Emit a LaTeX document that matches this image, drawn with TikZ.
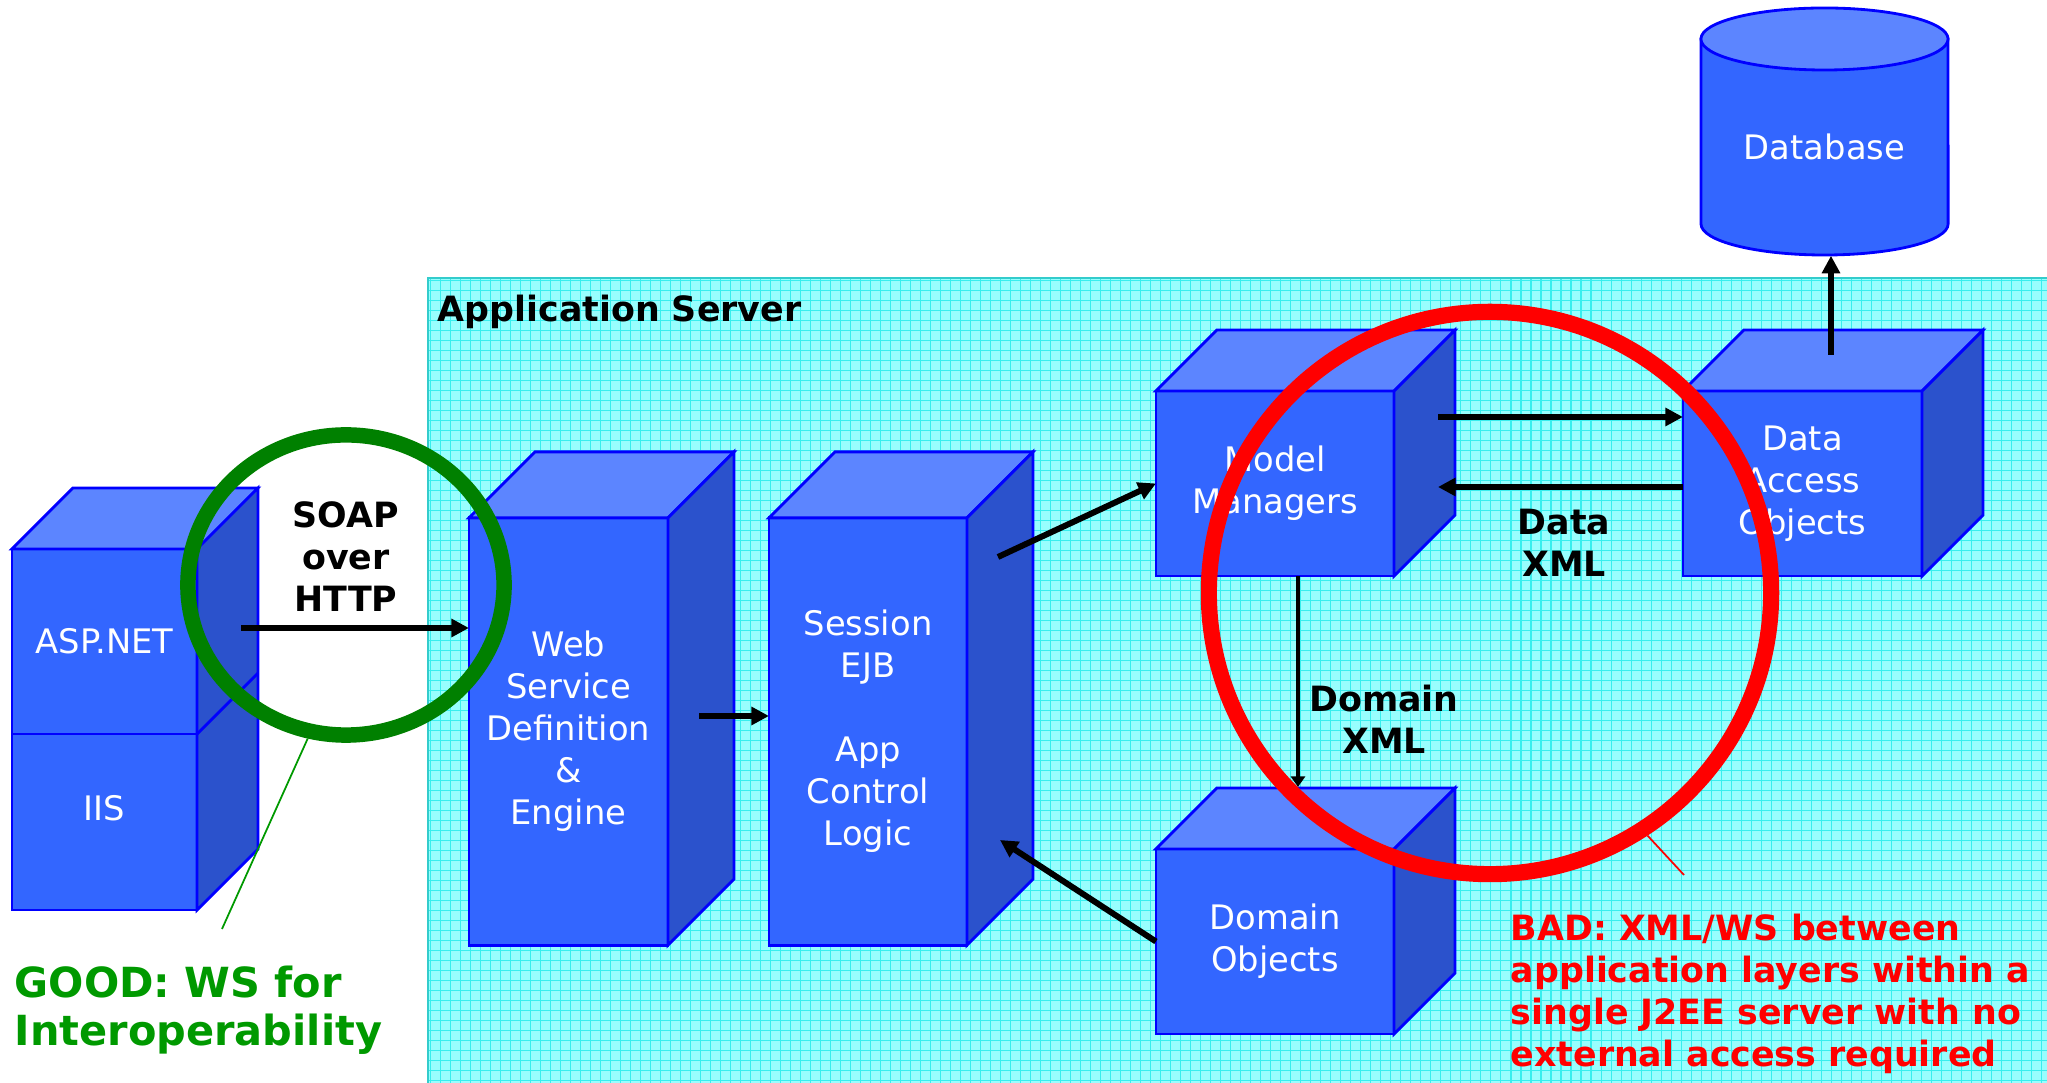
\documentclass[tikz,border=0pt]{standalone}
\usepackage{fontspec}
\setmainfont{DejaVu Sans}
\usetikzlibrary{arrows.meta,shapes.geometric}

\definecolor{panelfill}{RGB}{152,254,254}
\definecolor{panelgrid}{RGB}{56,238,238}
\definecolor{paneledge}{RGB}{51,204,204}
\definecolor{facefront}{RGB}{51,102,255}
\definecolor{facetop}{RGB}{92,133,255}
\definecolor{faceside}{RGB}{43,82,204}
\definecolor{faceline}{RGB}{0,0,255}
\definecolor{goodgreen}{RGB}{0,128,0}
\definecolor{goodtext}{RGB}{0,153,0}
\definecolor{badred}{RGB}{255,0,0}

\newcommand{\boxfont}{\fontsize{9.6}{11.95}\selectfont}
\newcommand{\tagfont}{\fontsize{9.9}{11.95}\selectfont\bfseries}
\newcommand{\goodfont}{\fontsize{11.8}{13.7}\selectfont\bfseries}

\tikzset{
  boxfront/.style={rectangle, draw=faceline, fill=facefront, line width=0.8pt,
    outer sep=0pt, inner sep=0pt, text=white, align=center, font=\boxfont},
  boxtop/.style={draw=faceline, fill=facetop, line width=0.8pt},
  boxside/.style={draw=faceline, fill=faceside, line width=0.8pt},
  flow/.style={line width=1.7pt, -{Triangle[length=5pt, width=5pt]}},
  boldtext/.style={font=\tagfont, align=center, inner sep=0pt},
  ring/.style={line width=4.4pt, inner sep=0pt},
}

\begin{document}
\begin{tikzpicture}[x=0.01cm, y=-0.01cm]
    \useasboundingbox (0,0) rectangle (2047,1083);

    % application server panel
    \fill[panelfill] (428,278) rectangle (2047,1083);
    \draw[panelgrid, line width=0.3pt, step=0.1cm] (428,278) grid (2047,1083);
    \draw[paneledge, line width=0.7pt] (2047,278) -- (428,278) -- (428,1083);
    \node[boldtext, anchor=base west] (appsrv) at (437,322) {Application Server};

    % front faces
    \node[boxfront, minimum width=1.85cm, minimum height=1.85cm] (asp) at (104.5,641.5) {ASP.NET};
    \node[boxfront, minimum width=1.85cm, minimum height=1.76cm] (iis) at (104.5,822) {\raisebox{8pt}{IIS}};
    \node[boxfront, minimum width=1.99cm, minimum height=4.27cm] (wsd) at (568.5,731.5) {Web\\Service\\Definition\\\&\\Engine};
    \node[boxfront, minimum width=1.98cm, minimum height=4.27cm] (ejb) at (868,731.5) {Session\\EJB\\[11.95pt]App\\Control\\Logic};
    \node[boxfront, minimum width=2.38cm, minimum height=1.85cm] (mgr) at (1275,483.5) {Model\\Managers};
    \node[boxfront, minimum width=2.39cm, minimum height=1.85cm] (dao) at (1802.5,483.5) {Data\\Access\\Objects};
    \node[boxfront, minimum width=2.38cm, minimum height=1.85cm] (dom) at (1275,941.5) {Domain\\Objects};

    % top and side faces
    \foreach \b/\d in {wsd/66, ejb/66, mgr/61, dao/61, dom/61} {
        \filldraw[boxtop] (\b.north west) -- ++(\d,-\d) -- ([shift={(\d,-\d)}]\b.north east) -- (\b.north east) -- cycle;
        \filldraw[boxside] (\b.north east) -- ++(\d,-\d) -- ([shift={(\d,-\d)}]\b.south east) -- (\b.south east) -- cycle;
    }
    \filldraw[boxtop] (asp.north west) -- ++(61,-61) -- ([shift={(61,-61)}]asp.north east) -- (asp.north east) -- cycle;
    \filldraw[boxside] (asp.north east) -- ++(61,-61) -- ([shift={(61,-61)}]iis.south east) -- (iis.south east) -- cycle;
    \draw[faceline, line width=0.8pt] (asp.south east) -- ++(61,-61);

    % database
    \filldraw[boxside, fill=facefront] (1701,39) -- (1701,224) arc[start angle=180, end angle=360, x radius=1.235cm, y radius=0.31cm] -- (1948,39) -- cycle;
    \filldraw[boxtop] (1824.5,39) ellipse[x radius=1.235cm, y radius=0.31cm];
    \node[text=white, font=\boxfont, inner sep=0pt, minimum width=2.47cm, minimum height=2.16cm] (db) at (1824.5,147) {Database};

    % connectors
    \coordinate (soapout) at (241,628);
    \coordinate (wsdout) at (699,716);
    \coordinate (ejbout) at (998,557);
    \coordinate (ejbin) at (1000,840);
    \coordinate (mgrout) at (1438,417);
    \coordinate (mgrin) at (1438,487);
    \coordinate (mgrdown) at (1298,576);
    \coordinate (domback) at ([shift={(0,-62)}]dom.north);
    \coordinate (daoup) at (1831,355);
    \draw[flow] (soapout) -- (soapout -| wsd.west);
    \draw[flow] (wsdout) -- (wsdout -| ejb.west);
    \draw[flow] (ejbout) -- (mgr.west);
    \draw[flow] (dom.west) -- (ejbin);
    \draw[flow] (mgrout) -- (mgrout -| dao.west);
    \draw[flow] (mgrin -| dao.west) -- (mgrin);
    \draw[line width=1.3pt, -{Triangle[length=3pt, width=4pt]}] (mgrdown) -- (mgrdown |- domback);
    \draw[flow] (daoup) -- (daoup |- db.south);

    \node[boldtext] (soap) at (346,557) {SOAP\\over\\HTTP};
    \node[boldtext] (dataxml) at (1564,543) {Data\\XML};
    \node[boldtext] (domxml) at (1384,719) {Domain\\XML};

    % rings and callouts
    \node[ring, ellipse, draw=goodgreen, minimum width=3.16cm, minimum height=3.0cm] (goodring) at (346,585) {};
    \node[ring, circle, draw=badred, line width=4.6pt, minimum size=5.62cm] (badring) at (1490,593) {};
    \coordinate (goodtip) at (222,929);
    \coordinate (badtip) at (1684,875);
    \draw[goodtext, line width=0.5pt] (goodring.256) -- (goodtip);
    \draw[badred, line width=0.5pt] (badring.-57) -- (badtip);

    \node[anchor=west, inner sep=0pt, align=left, text=goodtext, font=\goodfont] (good) at (14,1010) {GOOD: WS for\\Interoperability};
    \node[anchor=west, inner sep=0pt, align=left, text=badred, font=\tagfont] (bad) at (1510,994) {BAD: XML/WS between\\application layers within a\\single J2EE server with no\\external access required};
\end{tikzpicture}
\end{document}
